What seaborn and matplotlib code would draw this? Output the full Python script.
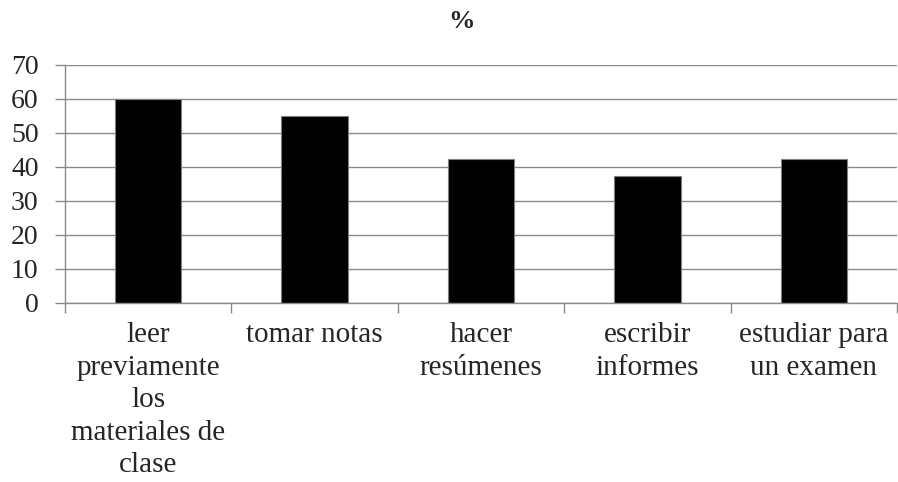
import matplotlib
matplotlib.use("Agg")
import matplotlib.pyplot as plt
import seaborn as sns
import pandas as pd

categorias = ["leer\npreviamente\nlos\nmateriales de\nclase", "tomar notas",
              "hacer\nresúmenes", "escribir\ninformes", "estudiar para\nun examen"]
porcentajes = [60, 55, 42.5, 37.5, 42.5]
y_ticks = [0, 10, 20, 30, 40, 50, 60, 70]

sns.set_style("white")
plt.rcParams["font.family"] = ["Liberation Serif", "DejaVu Serif"]

df = pd.DataFrame({"cat": categorias, "pct": porcentajes})

fig = plt.figure(figsize=(8.98, 4.82), dpi=100)
ax = fig.add_axes([65 / 898, 1 - 303 / 482, 832 / 898, 238 / 482])

sns.barplot(data=df, x="cat", y="pct", color="black", width=0.4,
            edgecolor="#7f7f7f", linewidth=0.8, saturation=1, ax=ax)

gris = "#8a8a8a"
ax.set_xlim(-0.5, len(categorias) - 0.5)
ax.set_ylim(0, 70)
ax.set_yticks(y_ticks)
ax.yaxis.grid(True, color=gris, linewidth=1)
ax.set_axisbelow(True)
for s in ["top", "right"]:
    ax.spines[s].set_visible(False)
for s in ["left", "bottom"]:
    ax.spines[s].set_color(gris)
    ax.spines[s].set_linewidth(1)

ax.tick_params(axis="y", which="major", direction="out", length=7, width=1,
               color=gris, labelsize=20, pad=12, left=True)
ax.set_xticks(range(len(categorias)))
ax.set_xticklabels(categorias, fontsize=21, linespacing=1.32, va="top")
ax.tick_params(axis="x", which="major", length=0, pad=14)
ax.set_xticks([i - 0.5 for i in range(len(categorias) + 1)], minor=True)
ax.tick_params(axis="x", which="minor", direction="out", length=7, width=1,
               color=gris, bottom=True)
ax.set_xlabel("")
ax.set_ylabel("")

fig.text(462 / 898, 1 - 22 / 482, "%", ha="center", va="center",
         fontsize=19, fontweight="bold")

fig.savefig("out.png", dpi=100)
